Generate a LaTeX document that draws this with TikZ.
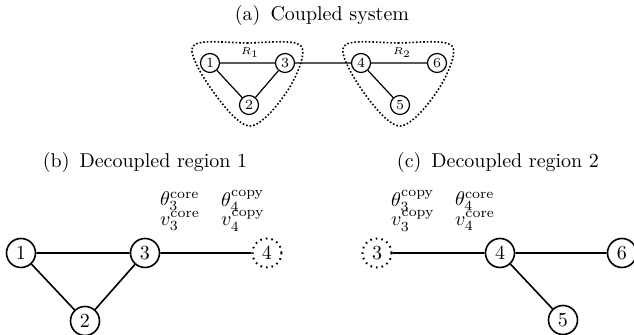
\documentclass[tikz,border=0pt]{standalone}
\usepackage{amsmath}
\usetikzlibrary{positioning}
\tikzset{
    bus/.style={circle, draw, line width=0.8pt, minimum size=14.5pt, inner sep=0pt, font=\normalsize},
    ghostbus/.style={bus, dotted, line width=1pt},
    minibus/.style={circle, draw, line width=0.6pt, minimum size=9.5pt, inner sep=0pt, font=\scriptsize},
    link/.style={line width=0.8pt},
    minilink/.style={line width=0.6pt},
    region/.style={densely dotted, line width=0.8pt},
    caption/.style={font=\normalsize},
    vars/.style={align=left, font=\normalsize, inner sep=0pt,
        execute at begin node={\baselineskip=9.8pt\lineskiplimit=-100pt}},
}

\begin{document}
\begin{tikzpicture}[x=0.5pt, y=-0.5pt]
    \useasboundingbox (0,0) rectangle (634,335);

    % (a) Coupled system
    \node[caption] (capa) at (322,16) {(a)\enspace Coupled system};
    \node[minibus] (a1) at (210,63) {1};
    \node[minibus] (a2) at (249,105) {2};
    \node[minibus] (a3) at (285,63) {3};
    \node[minibus] (a4) at (361,63) {4};
    \node[minibus] (a5) at (400,105) {5};
    \node[minibus] (a6) at (437,63) {6};
    \node[font=\tiny] (r1) at (250,53) {$R_1$};
    \node[font=\tiny] (r2) at (402,53) {$R_2$};
    \draw[minilink] (a1) -- (a3) (a1) -- (a2) (a2) -- (a3) (a3) -- (a4)
                    (a4) -- (a6) (a4) -- (a5);
    % regions
    \draw[region] plot[smooth cycle, tension=0.55] coordinates
        {(193,46) (247,43) (301,46) (288,90) (250,126) (212,90)};
    \draw[region] plot[smooth cycle, tension=0.55] coordinates
        {(344,46) (398,43) (452,46) (438,90) (400,126) (362,90)};

    % (b) Decoupled region 1
    \node[caption] (capb) at (145,163) {(b)\enspace Decoupled region 1};
    \node[bus] (b1) at (21,253) {1};
    \node[bus] (b2) at (85,321) {2};
    \node[bus] (b3) at (145,253) {3};
    \node[ghostbus] (b4) at (267,253) {4};
    \draw[link] (b1) -- (b3) (b1) -- (b2) (b2) -- (b3) (b3) -- (b4);
    \node[vars] (b3var) at (180,211) {$\theta_3^{\mathrm{core}}$\\$v_3^{\mathrm{core}}$};
    \node[vars] (b4var) at (243,211) {$\theta_4^{\mathrm{copy}}$\\$v_4^{\mathrm{copy}}$};

    % (c) Decoupled region 2
    \node[caption] (capc) at (498,163) {(c)\enspace Decoupled region 2};
    \node[ghostbus] (c3) at (377,253) {3};
    \node[bus] (c4) at (500,253) {4};
    \node[bus] (c5) at (563,320) {5};
    \node[bus] (c6) at (622,253) {6};
    \draw[link] (c3) -- (c4) (c4) -- (c6) (c4) -- (c5);
    \node[vars] (c3var) at (413,211) {$\theta_3^{\mathrm{copy}}$\\$v_3^{\mathrm{copy}}$};
    \node[vars] (c4var) at (475,211) {$\theta_4^{\mathrm{core}}$\\$v_4^{\mathrm{core}}$};
\end{tikzpicture}
\end{document}
